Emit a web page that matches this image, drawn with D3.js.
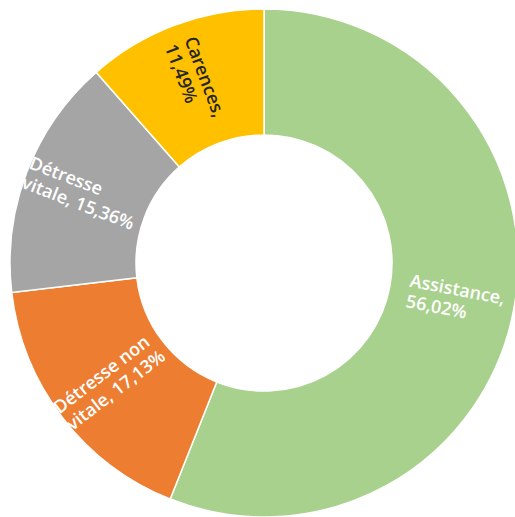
<!DOCTYPE html>
<html>
<head>
<meta charset="utf-8">
<script src="https://cdn.jsdelivr.net/npm/d3@7"></script>
<style>
  html, body { margin: 0; padding: 0; background: #fff; }
  svg { display: block; }
</style>
</head>
<body>
<svg id="chart" width="515" height="517"></svg>
<script>
const categories = ["Assistance", "Détresse non vitale", "Détresse vitale", "Carences"];
const values = [56.02, 17.13, 15.36, 11.49];
const colors = ["#A9D18E", "#ED7D31", "#A5A5A5", "#FFC000"];
const labelColors = ["#ffffff", "#ffffff", "#ffffff", "#262626"];
const labelLines = [
  ["Assistance,", "56,02%"],
  ["Détresse non", "vitale, 17,13%"],
  ["Détresse", "vitale, 15,36%"],
  ["Carences,", "11,49%"]
];

const cx = 264, cy = 263, rOuter = 254, rInner = 128, rLabel = 195;
const svg = d3.select("#chart");
const g = svg.append("g").attr("transform", `translate(${cx},${cy})`);

const data = categories.map((c, i) => ({ name: c, value: values[i], i }));
const pie = d3.pie().value(d => d.value).sort(null);
const arc = d3.arc().innerRadius(rInner).outerRadius(rOuter);
const arcs = pie(data);

g.selectAll("path.slice").data(arcs).join("path")
  .attr("class", "slice")
  .attr("d", arc)
  .attr("fill", d => colors[d.data.i])
  .attr("stroke", "#ffffff")
  .attr("stroke-width", 1.5);

const fontSize = 18, lineH = 21;
arcs.forEach(a => {
  const mid = (a.startAngle + a.endAngle) / 2;
  const x = rLabel * Math.sin(mid), y = -rLabel * Math.cos(mid);
  let rot = Math.atan2(Math.cos(mid), -Math.sin(mid)) * 180 / Math.PI;
  if (rot > 90) rot -= 180;
  if (rot < -90) rot += 180;
  const lg = g.append("g").attr("transform", `translate(${x},${y}) rotate(${rot})`);
  const lines = labelLines[a.data.i];
  const texts = lines.map((t, k) => lg.append("text")
    .attr("font-family", "'Open Sans', sans-serif")
    .attr("font-weight", 600)
    .attr("font-size", fontSize)
    .attr("fill", labelColors[a.data.i])
    .attr("y", (k - (lines.length - 1) / 2) * lineH)
    .attr("dy", "0.35em")
    .text(t));
  const maxW = d3.max(texts, t => t.node().getComputedTextLength());
  texts.forEach(t => t.attr("x", -maxW / 2));
});
</script>
</body>
</html>
